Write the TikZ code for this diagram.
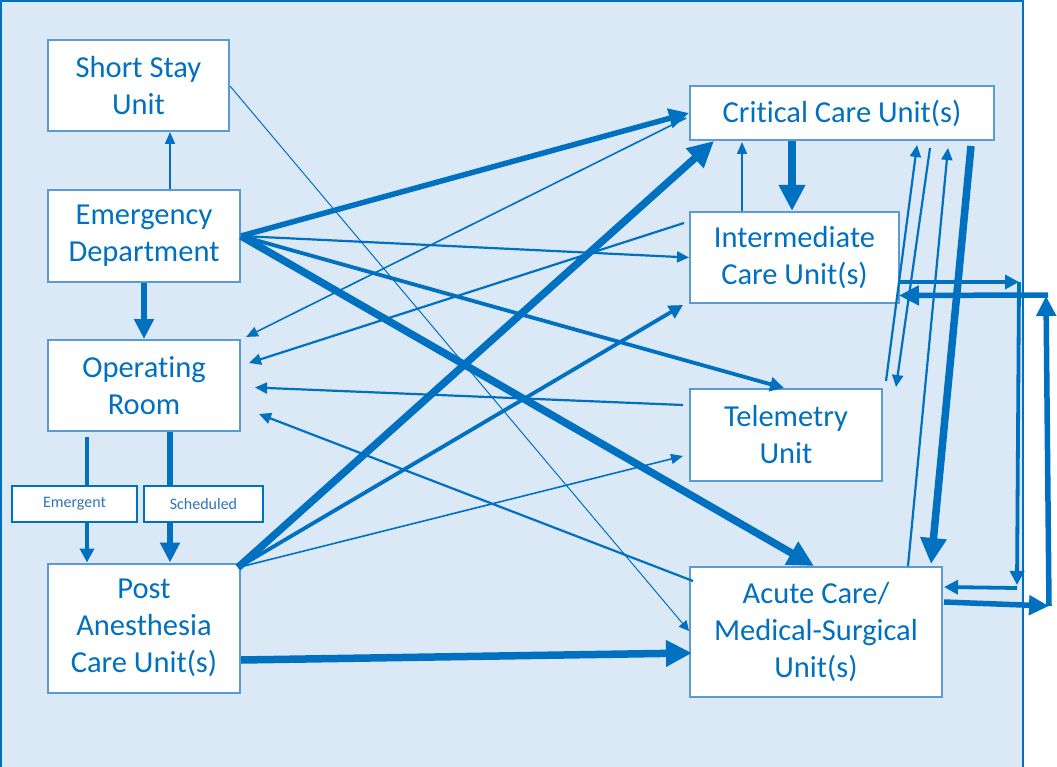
\documentclass[tikz,border=0pt]{standalone}
\usepackage{fontspec}
\setmainfont{Carlito}[Ligatures={NoCommon}]
\usetikzlibrary{arrows.meta,calc}
\definecolor{ablue}{RGB}{0,112,192}
\definecolor{bline}{RGB}{91,155,213}
\definecolor{bgblue}{RGB}{219,232,246}
\definecolor{tagtext}{RGB}{46,117,182}
\tikzset{
  unit/.style={draw=bline, line width=2pt, fill=white, text=ablue, align=center,
    inner sep=0pt, font=\fontsize{30.5}{37}\selectfont},
  tag/.style={draw=ablue, line width=2pt, fill=white, text=tagtext, align=center,
    inner sep=0pt, font=\fontsize{16}{19}\selectfont},
  fla/.style={draw=ablue, line width=1pt, -{Triangle[length=10pt,width=10pt]}},
  flb/.style={draw=ablue, line width=1.6pt, -{Triangle[length=12pt,width=10pt]}},
  flc/.style={draw=ablue, line width=2.2pt, -{Triangle[length=12pt,width=11pt]}},
  fld/.style={draw=ablue, line width=3.8pt, -{Triangle[length=14pt,width=14pt]}},
  fle/.style={draw=ablue, line width=5.5pt, -{Triangle[length=20pt,width=19pt]}},
  flf/.style={draw=ablue, line width=7.5pt, -{Triangle[length=26pt,width=25pt]}},
}
\begin{document}
\begin{tikzpicture}[x=1pt,y=-1pt]
\useasboundingbox (0,0) rectangle (1057,767);
\fill[bgblue] (1,1) rectangle (1023,780);
\draw[ablue,line width=2pt] (1,780) -- (1,1) -- (1023,1) -- (1023,780);

% units
\node[unit, minimum width=181pt, minimum height=91pt] (ssu) at (138.5,85.5) {Short Stay\\Unit};
\node[unit, minimum width=192pt, minimum height=92pt] (ed) at (144,236) {Emergency\\Department};
\node[unit, minimum width=192pt, minimum height=91pt] (or) at (144,385.5) {Operating\\Room};
\node[unit, minimum width=192pt, minimum height=129pt] (pacu) at (144,628) {Post\\Anesthesia\\Care Unit(s)};
\node[unit, minimum width=304pt, minimum height=54pt] (ccu) at (842,113) {Critical Care Unit(s)};
\node[unit, minimum width=209pt, minimum height=91pt] (imcu) at (794.5,257.5) {Intermediate\\Care Unit(s)};
\node[unit, minimum width=192pt, minimum height=92pt] (tele) at (786,435) {Telemetry\\Unit};
\node[unit, minimum width=252pt, minimum height=130pt] (acute) at (816,632) {Acute Care/\\Medical-Surgical\\Unit(s)};

% corner points of the right-hand loops
\coordinate (c1) at (1019,282);
\coordinate (c2) at (1017,588);
\coordinate (c3) at (1049,606);
\coordinate (c4) at (1046,296);

% left column
\draw[flb] ($(ed.north west)+(123,0)$) -- ($(ssu.south west)+(123,0)$);
\draw[fle] (ed.south) -- (or.north);
\draw[fld] ($(or.south west)+(40,5)$) -- ($(pacu.north west)+(40,0)$);
\draw[fle] ($(or.south west)+(123,0)$) -- ($(pacu.north west)+(123,0)$);

% short stay to acute
\draw[fla] ($(ssu.north east)+(0,47)$) -- ($(acute.north west)+(0,65)$);

% emergency department fan
\draw[fle] (ed.east) -- (ccu.west);
\draw[flc] (ed.east) -- (imcu.west);
\draw[fld] (ed.east) -- ($(tele.north west)+(95,0)$);
\draw[flf] (ed.east) -- ($(acute.north west)+(125,0)$);

% returns to operating room
\draw[flb] ($(ccu.west)+(-3,5)$) -- ($(or.north east)+(5,-2)$);
\draw[flc] ($(imcu.north west)+(-5,12)$) -- ($(or.north east)+(8,24)$);
\draw[flc] ($(tele.west)+(-6,-30)$) -- ($(or.east)+(14,2)$);
\draw[flc] ($(acute.north west)+(4,15)$) -- ($(or.south east)+(18,-18)$);

% post anesthesia fan
\draw[flf] ($(pacu.north east)+(-3,5)$) -- ($(ccu.south west)+(25,0)$);
\draw[fld] ($(pacu.north east)+(-3,5)$) -- ($(imcu.south west)+(-6,1)$);
\draw[flb] ($(pacu.north east)+(-3,5)$) -- ($(tele.south west)+(-6,-26)$);
\draw[flf] ($(pacu.east)+(0,32)$) -- ($(acute.west)+(3,21)$);

% critical care <-> intermediate
\draw[flf] ($(ccu.south west)+(103,0)$) -- ($(imcu.north west)+(103,0)$);
\draw[flb] ($(imcu.north west)+(53,0)$) -- ($(ccu.south west)+(53,1)$);

% right-hand verticals
\draw[flc] ($(tele.north east)+(3,-7)$) -- ($(ccu.south west)+(228,4)$);
\draw[flc] ($(ccu.south west)+(241,7)$) -- ($(tele.north east)+(13,-1)$);
\draw[flc] ($(acute.north west)+(219,0)$) -- ($(ccu.south west)+(259,7)$);
\draw[flf] ($(ccu.south west)+(282,5)$) -- ($(acute.north west)+(242,-2)$);

% loops on the right
\draw[fld] ($(imcu.east)+(-1,24.5)$) -- (c1);
\draw[fld] (c1) -- ($(c2)+(0,-3)$);
\draw[fld] (c2) -- ($(acute.north east)+(1,21)$);
\draw[fle] ($(acute.north east)+(1,36)$) -- (c3);
\draw[fle] (c3) -- (c4);
\draw[fle] ($(c4)+(2,-1)$) -- ($(imcu.east)+(-1,38)$);

% path labels
\node[tag, minimum width=125pt, minimum height=36pt] (em) at (74.5,504) {Emergent};
\node[tag, minimum width=119pt, minimum height=36pt] (sch) at (203.5,504) {Scheduled};
\end{tikzpicture}
\end{document}
